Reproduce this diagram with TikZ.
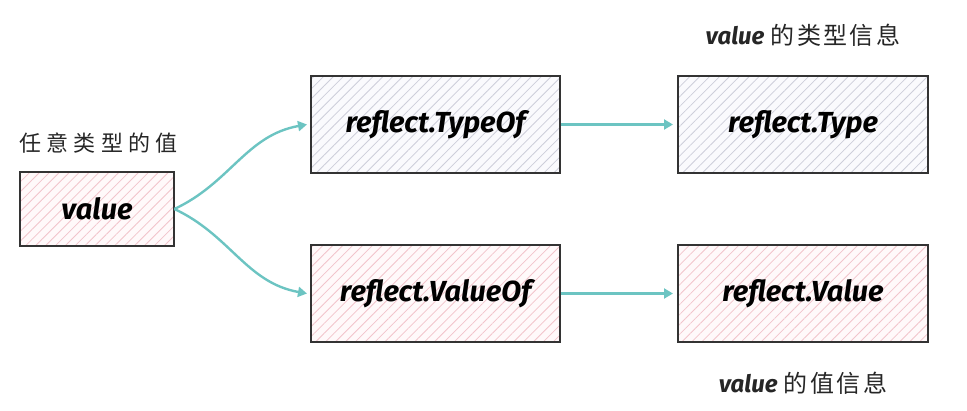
\documentclass[tikz,border=0pt]{standalone}
\usepackage{fontspec}
\setmainfont{Fira Sans}
\newfontfamily\cjk[LetterSpace=24]{Noto Sans CJK SC}
\newfontfamily\cjkb[LetterSpace=10]{Noto Sans CJK SC}
\usetikzlibrary{arrows.meta,patterns.meta}
\definecolor{teal1}{HTML}{6CC4C2}
\definecolor{edge}{HTML}{333333}
\definecolor{hpink}{HTML}{F2C4CB}
\definecolor{hblue}{HTML}{CDCEDA}
\definecolor{tpink}{HTML}{FFF9FA}
\definecolor{tblue}{HTML}{FAFAFD}
\tikzset{
  x=1pt,y=1pt,
  box/.style={draw=edge, line width=2pt, inner sep=0pt, font=\fontsize{29}{33}\selectfont\bfseries\itshape},
  pinkbox/.style={box, preaction={fill=tpink}, pattern={Lines[angle=45,distance=7pt,line width=0.8pt]}, pattern color=hpink},
  bluebox/.style={box, preaction={fill=tblue}, pattern={Lines[angle=45,distance=7pt,line width=0.8pt]}, pattern color=hblue},
  conn/.style={draw=teal1, line width=2.4pt, -{Triangle[length=9pt,width=10pt]}},
  lbl/.style={inner sep=0pt, text=black!85}
}
\begin{document}
\begin{tikzpicture}
\useasboundingbox (0,0) rectangle (967,410);
\node[pinkbox, minimum width=154, minimum height=74] (val) at (97,201) {value};
\node[bluebox, minimum width=249, minimum height=97] (typeof) at (435.5,285.5) {reflect.TypeOf};
\node[bluebox, minimum width=250, minimum height=97] (type) at (803,285.5) {reflect.Type};
\node[pinkbox, minimum width=249, minimum height=97] (valueof) at (435.5,116.5) {reflect.ValueOf};
\node[pinkbox, minimum width=250, minimum height=97] (value) at (803,116.5) {reflect.Value};

\node[lbl, anchor=west, font=\fontsize{22}{26}\selectfont\cjk] (l1) at (19,267) {任意类型的值};
\node[lbl, font=\fontsize{24}{28}\selectfont] (l2) at (803,375) {\textbf{\textit{value}} {\cjkb 的类型信息}};
\node[lbl, font=\fontsize{24}{28}\selectfont] (l3) at (803,27) {\textbf{\textit{value}} {\cjkb 的值信息}};

\draw[conn] (val.east) to[out=25,in=190] ([xshift=-3pt]typeof.west);
\draw[conn] (val.east) to[out=-25,in=170] ([xshift=-3pt]valueof.west);
\draw[conn] (typeof.east) -- ([xshift=-4pt]type.west);
\draw[conn] (valueof.east) -- ([xshift=-4pt]value.west);
\end{tikzpicture}
\end{document}
